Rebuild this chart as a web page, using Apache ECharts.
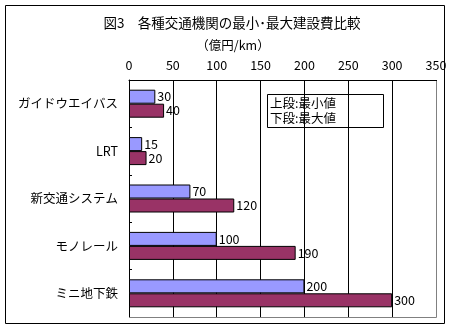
<!DOCTYPE html>
<html><head><meta charset="utf-8">
<script src="https://cdn.jsdelivr.net/npm/echarts@6/dist/echarts.min.js"></script>
<style>html,body{margin:0;padding:0;background:#fff}#c{width:454px;height:329px}</style>
</head><body><div id="c"></div>
<script>
const categories = ['ガイドウエイバス', 'LRT', '新交通システム', 'モノレール', 'ミニ地下鉄'];
const minValues = [30, 15, 70, 100, 200];
const maxValues = [40, 20, 120, 190, 300];
const titleText = '図3　各種交通機関の最小･最大建設費比較';
const unitText = '（億円/km）';
const noteLines = ['上段:最小値', '下段:最大値'];

const FONT = '"Noto Sans CJK JP", sans-serif';
const chart = echarts.init(document.getElementById('c'), null, {renderer: 'canvas'});
chart.setOption({
  backgroundColor: '#fff',
  animation: false,
  title: [
    {text: titleText, left: 227, top: 11, textAlign: 'center',
     textStyle: {fontFamily: FONT, fontSize: 13.5, fontWeight: 'normal', color: '#000'}},
    {text: unitText, left: 228, top: 34, textAlign: 'center',
     textStyle: {fontFamily: FONT, fontSize: 12.5, fontWeight: 'normal', color: '#000'}}
  ],
  grid: {left: 129, top: 80, right: 18, bottom: 12, containLabel: false},
  xAxis: {
    type: 'value', position: 'top', min: 0, max: 350, interval: 50,
    axisLine: {show: true, lineStyle: {color: '#000', width: 1}},
    axisTick: {show: false},
    axisLabel: {fontFamily: FONT, fontSize: 12.5, color: '#000', margin: 8},
    splitLine: {show: true, lineStyle: {color: '#000', width: 1}}
  },
  yAxis: {
    type: 'category', data: categories, inverse: true,
    axisLine: {show: true, lineStyle: {color: '#000', width: 1}},
    axisTick: {show: true, inside: true, length: 3, lineStyle: {color: '#000'}},
    axisLabel: {fontFamily: FONT, fontSize: 12.5, color: '#000', margin: 11}
  },
  series: [
    {type: 'bar', name: '最小値', data: minValues, barWidth: 14, barGap: '0%',
     itemStyle: {color: '#9999FF', borderColor: '#000', borderWidth: 1},
     label: {show: true, position: 'right', distance: 2, fontFamily: FONT, fontSize: 12.5, color: '#000'}},
    {type: 'bar', name: '最大値', data: maxValues, barWidth: 14, barGap: '0%',
     itemStyle: {color: '#993366', borderColor: '#000', borderWidth: 1},
     label: {show: true, position: 'right', distance: 2, fontFamily: FONT, fontSize: 12.5, color: '#000'}}
  ],
  graphic: [
    {type: 'rect', shape: {x: 5.5, y: 5.5, width: 439, height: 318}, style: {fill: 'none', stroke: '#000', lineWidth: 1}, z: 100},
    {type: 'line', shape: {x1: 129, y1: 317.5, x2: 436.5, y2: 317.5}, style: {stroke: '#808080', lineWidth: 1}, z: 100},
    {type: 'line', shape: {x1: 436.5, y1: 81, x2: 436.5, y2: 317.5}, style: {stroke: '#808080', lineWidth: 1}, z: 100},
    {type: 'rect', shape: {x: 267.5, y: 94.5, width: 116, height: 33}, style: {fill: 'none', stroke: '#000', lineWidth: 1}, z: 100},
    {type: 'text', left: 270, top: 96, style: {text: noteLines.join('\n'), font: '12.5px ' + FONT, fill: '#000', lineHeight: 15}, z: 100}
  ]
});
</script></body></html>
